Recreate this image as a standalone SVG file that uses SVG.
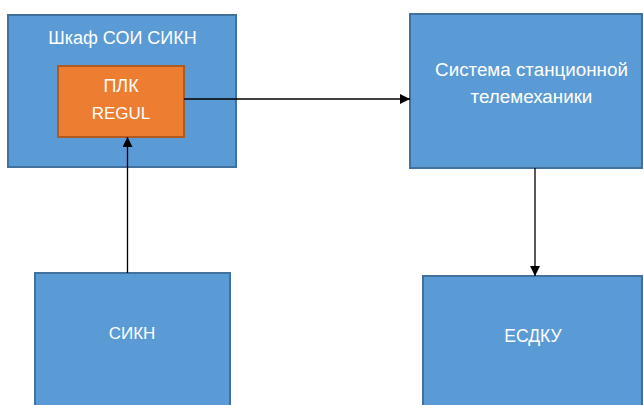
<svg xmlns="http://www.w3.org/2000/svg" width="644" height="405" viewBox="0 0 644 405">
<style>
.blue{fill:#5B9BD5;stroke:#41719C;stroke-width:2}
.orange{fill:#ED7D31;stroke:#AE5A21;stroke-width:2}
.t{fill:#FFFFFF;font-family:"Liberation Sans","Open Sans",sans-serif;font-size:17px;text-anchor:middle}
.c{stroke:#000;stroke-width:1.3;fill:none;marker-end:url(#ah)}
</style>
<defs>
<marker id="ah" viewBox="0 0 10 10" refX="10" refY="5" markerWidth="10" markerHeight="10" markerUnits="userSpaceOnUse" orient="auto">
<path d="M0,0 L10,5 L0,10 Z" fill="#000"/>
</marker>
</defs>
<rect width="644" height="405" fill="#FFFFFF"/>
<g id="cabinet">
<rect class="blue" x="8" y="15" width="228" height="152"/>
<text class="t" x="122.5" y="44" style="font-size:18px">Шкаф СОИ СИКН</text>
</g>
<g id="plc">
<rect class="orange" x="58" y="66" width="126" height="71"/>
<text class="t" x="121" y="92" style="font-size:18px">ПЛК</text>
<text class="t" x="121" y="119" style="font-size:17px">REGUL</text>
</g>
<g id="telemech">
<rect class="blue" x="410" y="14" width="232" height="154"/>
<text class="t" x="531.5" y="76" style="font-size:18.8px">Система станционной</text>
<text class="t" x="531.5" y="103" style="font-size:18.8px">телемеханики</text>
</g>
<g id="sikn">
<rect class="blue" x="35" y="273" width="195" height="140"/>
<text class="t" x="132" y="339" style="font-size:17px">СИКН</text>
</g>
<g id="esdku">
<rect class="blue" x="423" y="276" width="219" height="140"/>
<text class="t" x="533" y="342" style="font-size:17.5px">ЕСДКУ</text>
</g>
<g id="connectors">
<line class="c" x1="184" y1="99" x2="410" y2="99"/>
<line class="c" x1="127.5" y1="273" x2="127.5" y2="137"/>
<line class="c" x1="535" y1="168" x2="535" y2="276"/>
</g>
</svg>
